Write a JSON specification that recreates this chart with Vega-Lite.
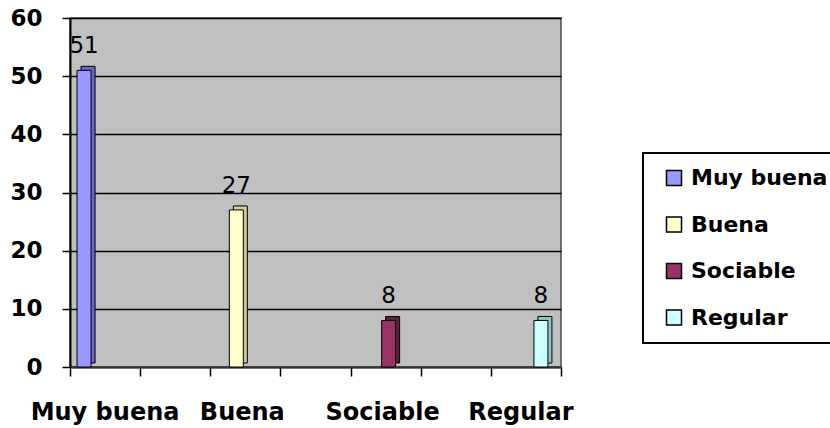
{
  "$schema": "https://vega.github.io/schema/vega-lite/v6.json",
  "width": 491,
  "height": 349,
  "autosize": {"type": "none"},
  "padding": {"left": 70, "top": 18, "right": 269, "bottom": 61},
  "background": "white",
  "config": {
    "view": {"fill": "#C0C0C0", "stroke": "#4d4d4d", "strokeWidth": 1.5},
    "font": "DejaVu Sans",
    "legend": {"strokeWidth": 2}
  },
  "data": {
    "values": [
      {"cat": "Muy buena", "n": 51},
      {"cat": "Buena", "n": 27},
      {"cat": "Sociable", "n": 8},
      {"cat": "Regular", "n": 8}
    ]
  },
  "layer": [
    {
      "data": {"values": [{"t": 0}, {"t": 7}]},
      "mark": {"type": "point", "opacity": 0},
      "encoding": {
        "x": {
          "field": "t",
          "type": "quantitative",
          "scale": {"domain": [0, 7], "nice": false, "zero": false},
          "axis": {
            "orient": "bottom",
            "values": [0, 1, 2, 3, 4, 5, 6, 7],
            "labels": false,
            "ticks": true,
            "tickSize": 9,
            "tickWidth": 1.5,
            "tickColor": "black",
            "domain": false,
            "grid": false,
            "title": null
          }
        }
      }
    },
    {
      "layer": [
        {
          "mark": {"type": "bar", "xOffset": 4, "yOffset": -4, "stroke": "black", "strokeWidth": 1},
          "encoding": {
            "x": {
              "field": "cat",
              "type": "nominal",
              "sort": null,
              "scale": {"type": "band", "paddingInner": 0.908, "paddingOuter": 0.066, "align": 0.35},
              "axis": {
                "orient": "bottom",
                "title": null,
                "ticks": false,
                "tickSize": 0,
                "domain": true,
                "domainColor": "#333333",
                "domainWidth": 2,
                "labelFont": "DejaVu Sans",
                "labelFontWeight": "bold",
                "labelFontSize": 24,
                "labelColor": "black",
                "labelPadding": 33,
                "labelAngle": 0,
                "labelOverlap": false,
                "labelBound": false,
                "labelOffset": {"expr": "datum.value === 'Muy buena' ? 21 : datum.value === 'Buena' ? 6 : datum.value === 'Sociable' ? -6 : -20"}
              }
            },
            "y": {
              "field": "n",
              "type": "quantitative",
              "scale": {"domain": [0, 60], "nice": false},
              "axis": {
                "title": null,
                "values": [0, 10, 20, 30, 40, 50, 60],
                "domainColor": "black",
                "domainWidth": 2,
                "tickColor": "black",
                "tickWidth": 1.5,
                "tickSize": 8,
                "labelFont": "DejaVu Sans",
                "labelFontWeight": "bold",
                "labelFontSize": 23,
                "labelColor": "black",
                "labelPadding": 20,
                "grid": true,
                "gridColor": "black",
                "gridWidth": 1.5
              }
            },
            "color": {
              "field": "cat",
              "type": "nominal",
              "scale": {
                "domain": ["Muy buena", "Buena", "Sociable", "Regular"],
                "range": ["#6666CC", "#CCCC99", "#5E1F3F", "#8FC7C7"]
              },
              "legend": null
            }
          }
        },
        {
          "mark": {"type": "bar", "stroke": "black", "strokeWidth": 1},
          "encoding": {
            "x": {"field": "cat", "type": "nominal", "sort": null},
            "y": {"field": "n", "type": "quantitative"},
            "color": {
              "field": "cat",
              "type": "nominal",
              "scale": {
                "domain": ["Muy buena", "Buena", "Sociable", "Regular"],
                "range": ["#9999FF", "#FFFFCC", "#993366", "#CCFFFF"]
              },
              "legend": {
                "title": null,
                "orient": "none",
                "legendX": 573,
                "legendY": 135,
                "fillColor": "white",
                "strokeColor": "black",
                "padding": 14,
                "rowPadding": 24.5,
                "symbolType": "square",
                "symbolSize": 225,
                "symbolStrokeColor": "black",
                "symbolStrokeWidth": 1.5,
                "symbolOffset": 6,
                "labelOffset": 6,
                "labelFont": "DejaVu Sans",
                "labelFontWeight": "bold",
                "labelFontSize": 22,
                "labelColor": "black",
                "labelLimit": 300
              }
            }
          }
        },
        {
          "mark": {"type": "text", "dy": -17, "baseline": "alphabetic", "align": "center", "fontSize": 23, "font": "DejaVu Sans", "color": "black"},
          "encoding": {
            "x": {"field": "cat", "type": "nominal", "sort": null},
            "y": {"field": "n", "type": "quantitative"},
            "text": {"field": "n", "type": "quantitative"}
          }
        }
      ],
      "resolve": {"scale": {"color": "independent"}}
    }
  ],
  "resolve": {"scale": {"x": "independent"}, "axis": {"x": "independent"}}
}
